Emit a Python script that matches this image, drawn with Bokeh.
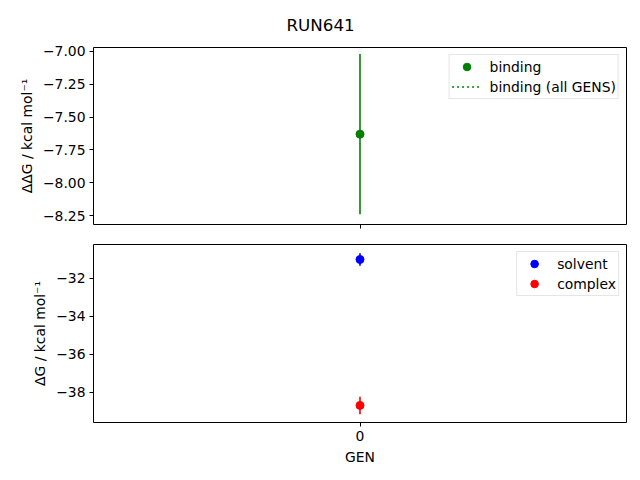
from bokeh.plotting import figure
from bokeh.layouts import column
from bokeh.models import FixedTicker, Range1d, Legend, LegendItem, Title
from bokeh.embed import file_html
from bokeh.resources import INLINE

title = "RUN641"
gens = [0]
binding = [-7.63]
binding_err = [0.61]
solvent = [-31.02]
solvent_err = [0.33]
complex_ = [-38.70]
complex_err = [0.46]
top_ticks = [-8.25, -8.00, -7.75, -7.50, -7.25, -7.00]
bot_ticks = [-38, -36, -34, -32]
x_ticks = [0]

FONT = "DejaVu Sans"
FS = "13.9px"


def fmt(v, nd):
    s = f"{v:.{nd}f}"
    return s.replace("-", "\u2212")


def style(p):
    p.xgrid.visible = False
    p.ygrid.visible = False
    p.outline_line_color = "black"
    p.outline_line_width = 1
    for ax in p.axis:
        ax.major_tick_out = 4
        ax.major_tick_in = 0
        ax.major_tick_line_color = "black"
        ax.minor_tick_line_color = None
        ax.axis_line_color = None
        ax.major_label_text_font = FONT
        ax.major_label_text_font_size = FS
        ax.major_label_text_color = "black"
        ax.axis_label_text_font = FONT
        ax.axis_label_text_font_size = FS
        ax.axis_label_text_color = "black"
        ax.axis_label_text_font_style = "normal"
        ax.major_label_standoff = 4


def make_legend(items):
    return Legend(items=items, location="top_right", label_text_font=FONT,
                  label_text_font_size=FS, label_text_color="black",
                  border_line_color="#cccccc", border_line_width=1, background_fill_alpha=0.8,
                  spacing=1, padding=2, margin=7, glyph_width=30, label_height=19,
                  glyph_height=19, label_standoff=8)


W = 632
p1 = figure(width=W, height=234, output_backend="svg", toolbar_location=None,
            min_border_left=93, min_border_right=6, min_border_top=46, min_border_bottom=10,
            x_range=Range1d(-1, 1), y_range=Range1d(-8.318, -6.97))
p1.add_layout(Title(text=title, align="left", offset=193, text_font=FONT, text_font_size="16.7px",
                    text_color="black", text_font_style="normal", standoff=25), "above")
lo = [b - e for b, e in zip(binding, binding_err)]
hi = [b + e for b, e in zip(binding, binding_err)]
p1.segment(x0=gens, x1=gens, y0=lo, y1=hi, line_color="green", line_width=1.6)
r_b = p1.scatter(x=gens, y=binding, size=8, color="green")
r_all = p1.line(x=gens, y=binding, line_color="green", line_dash="2 3", line_width=1.6)
p1.xaxis.ticker = FixedTicker(ticks=x_ticks)
p1.yaxis.ticker = FixedTicker(ticks=top_ticks)
p1.yaxis.major_label_overrides = {t: fmt(t, 2) for t in top_ticks}
p1.yaxis.axis_label = "ΔΔG / kcal mol⁻¹"
style(p1)
p1.xaxis.major_label_overrides = {t: "" for t in x_ticks}
p1.add_layout(make_legend([LegendItem(label="binding", renderers=[r_b]),
                           LegendItem(label="binding (all GENS)", renderers=[r_all])]))

p2 = figure(width=W, height=238, output_backend="svg", toolbar_location=None,
            min_border_left=93, min_border_right=6, min_border_top=10, min_border_bottom=50,
            x_range=p1.x_range, y_range=Range1d(-39.6, -30.23))
slo = [b - e for b, e in zip(solvent, solvent_err)]
shi = [b + e for b, e in zip(solvent, solvent_err)]
clo = [b - e for b, e in zip(complex_, complex_err)]
chi = [b + e for b, e in zip(complex_, complex_err)]
p2.segment(x0=gens, x1=gens, y0=slo, y1=shi, line_color="blue", line_width=1.6)
p2.segment(x0=gens, x1=gens, y0=clo, y1=chi, line_color="red", line_width=1.6)
r_s = p2.scatter(x=gens, y=solvent, size=8, color="blue")
r_c = p2.scatter(x=gens, y=complex_, size=8, color="red")
p2.xaxis.ticker = FixedTicker(ticks=x_ticks)
p2.xaxis.axis_label = "GEN"
p2.yaxis.ticker = FixedTicker(ticks=bot_ticks)
p2.yaxis.major_label_overrides = {t: fmt(t, 0) for t in bot_ticks}
p2.yaxis.axis_label = "ΔG / kcal mol⁻¹"
style(p2)
p2.add_layout(make_legend([LegendItem(label="solvent", renderers=[r_s]),
                           LegendItem(label="complex", renderers=[r_c])]))

layout = column(p1, p2, spacing=0)
open("out.html", "w").write(file_html(layout, INLINE))
